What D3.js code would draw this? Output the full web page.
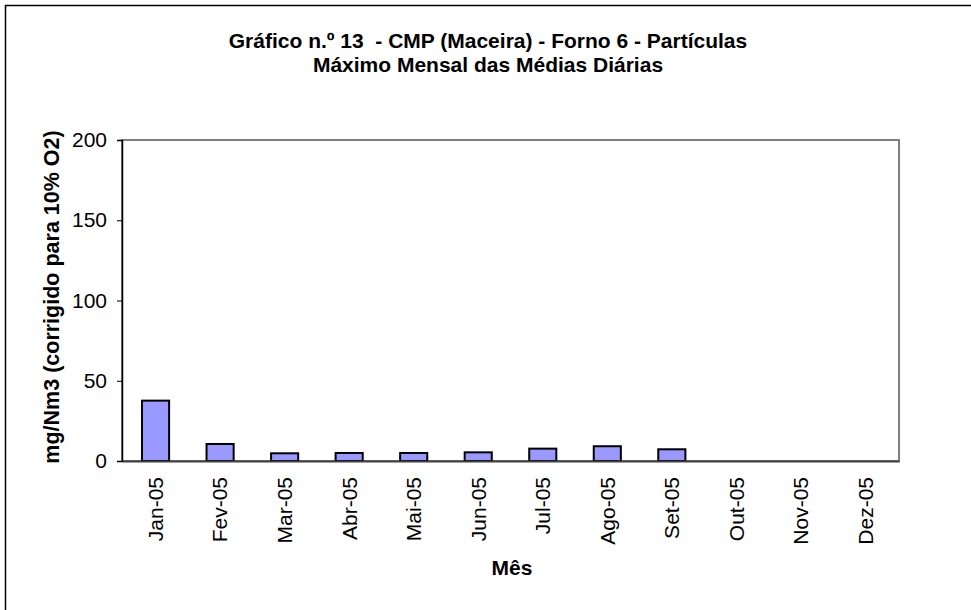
<!DOCTYPE html>
<html><head><meta charset="utf-8">
<script src="https://cdn.jsdelivr.net/npm/d3@7"></script>
<style>body{margin:0;background:#fff}svg{display:block}text{font-family:Arial,"Liberation Sans",sans-serif;white-space:pre}</style>
</head><body>
<script>
const months = ["Jan-05","Fev-05","Mar-05","Abr-05","Mai-05","Jun-05","Jul-05","Ago-05","Set-05","Out-05","Nov-05","Dez-05"];
const values = [37.6, 10.6, 4.8, 5.0, 5.0, 5.4, 7.7, 9.2, 7.3, null, null, null];
const yTicks = [0, 50, 100, 150, 200];
const titleLines = ["Gráfico n.º 13  - CMP (Maceira) - Forno 6 - Partículas", "Máximo Mensal das Médias Diárias"];
const yLabel = "mg/Nm3 (corrigido para 10% O2)";
const xLabel = "Mês";

const W = 971, H = 610;
const plot = {l: 122, r: 899, t: 140, b: 461};
const FS = 21;
const svg = d3.select("body").append("svg").attr("width", W).attr("height", H);

svg.append("rect").attr("x", 5.5).attr("y", 5.5).attr("width", W + 10).attr("height", H + 10)
  .attr("fill", "#fff").attr("stroke", "#000").attr("stroke-width", 1.5);

const x = d3.scaleBand().domain(months).range([plot.l, plot.r]).paddingInner(0.58).paddingOuter(0.31);
const y = d3.scaleLinear().domain([0, 200]).range([plot.b, plot.t]);

// plot frame
svg.append("rect").attr("x", plot.l).attr("y", plot.t).attr("width", plot.r - plot.l).attr("height", plot.b - plot.t)
  .attr("fill", "none").attr("stroke", "#808080").attr("stroke-width", 2);

// bars
svg.selectAll("rect.bar").data(months.map((m, i) => ({m, v: values[i]})).filter(d => d.v != null))
  .enter().append("rect").attr("class", "bar")
  .attr("x", d => x(d.m)).attr("width", x.bandwidth())
  .attr("y", d => y(d.v)).attr("height", d => y(0) - y(d.v))
  .attr("fill", "#9999ff").attr("stroke", "#000").attr("stroke-width", 2);

// y axis
const ya = svg.append("g").attr("transform", `translate(${plot.l},0)`)
  .call(d3.axisLeft(y).tickValues(yTicks).tickSize(5).tickPadding(10));
ya.select(".domain").attr("stroke", "#000").attr("stroke-width", 1.5);
ya.selectAll(".tick line").attr("stroke", "#000");
ya.selectAll("text").attr("font-size", FS).attr("fill", "#000");

// x axis
const xa = svg.append("g").attr("transform", `translate(0,${plot.b})`)
  .call(d3.axisBottom(x).tickSize(0).tickPadding(0));
xa.select(".domain").attr("stroke", "#404040").attr("stroke-width", 2);
xa.selectAll("text").attr("font-size", FS).attr("fill", "#000")
  .attr("transform", "rotate(-90)").attr("text-anchor", "end")
  .attr("x", -16).attr("y", 0).attr("dy", "0.35em");

// titles
svg.selectAll("text.title").data(titleLines).enter().append("text")
  .attr("x", 488).attr("y", (d, i) => 48 + i * 24)
  .attr("text-anchor", "middle").attr("font-size", FS)
  .attr("font-weight", "bold").text(d => d);

svg.append("text").attr("transform", `translate(59,297) rotate(-90)`)
  .attr("text-anchor", "middle").attr("font-size", 21.5)
  .attr("font-weight", "bold").text(yLabel);

svg.append("text").attr("x", 512).attr("y", 575)
  .attr("text-anchor", "middle").attr("font-size", FS)
  .attr("font-weight", "bold").text(xLabel);
</script>
</body></html>
